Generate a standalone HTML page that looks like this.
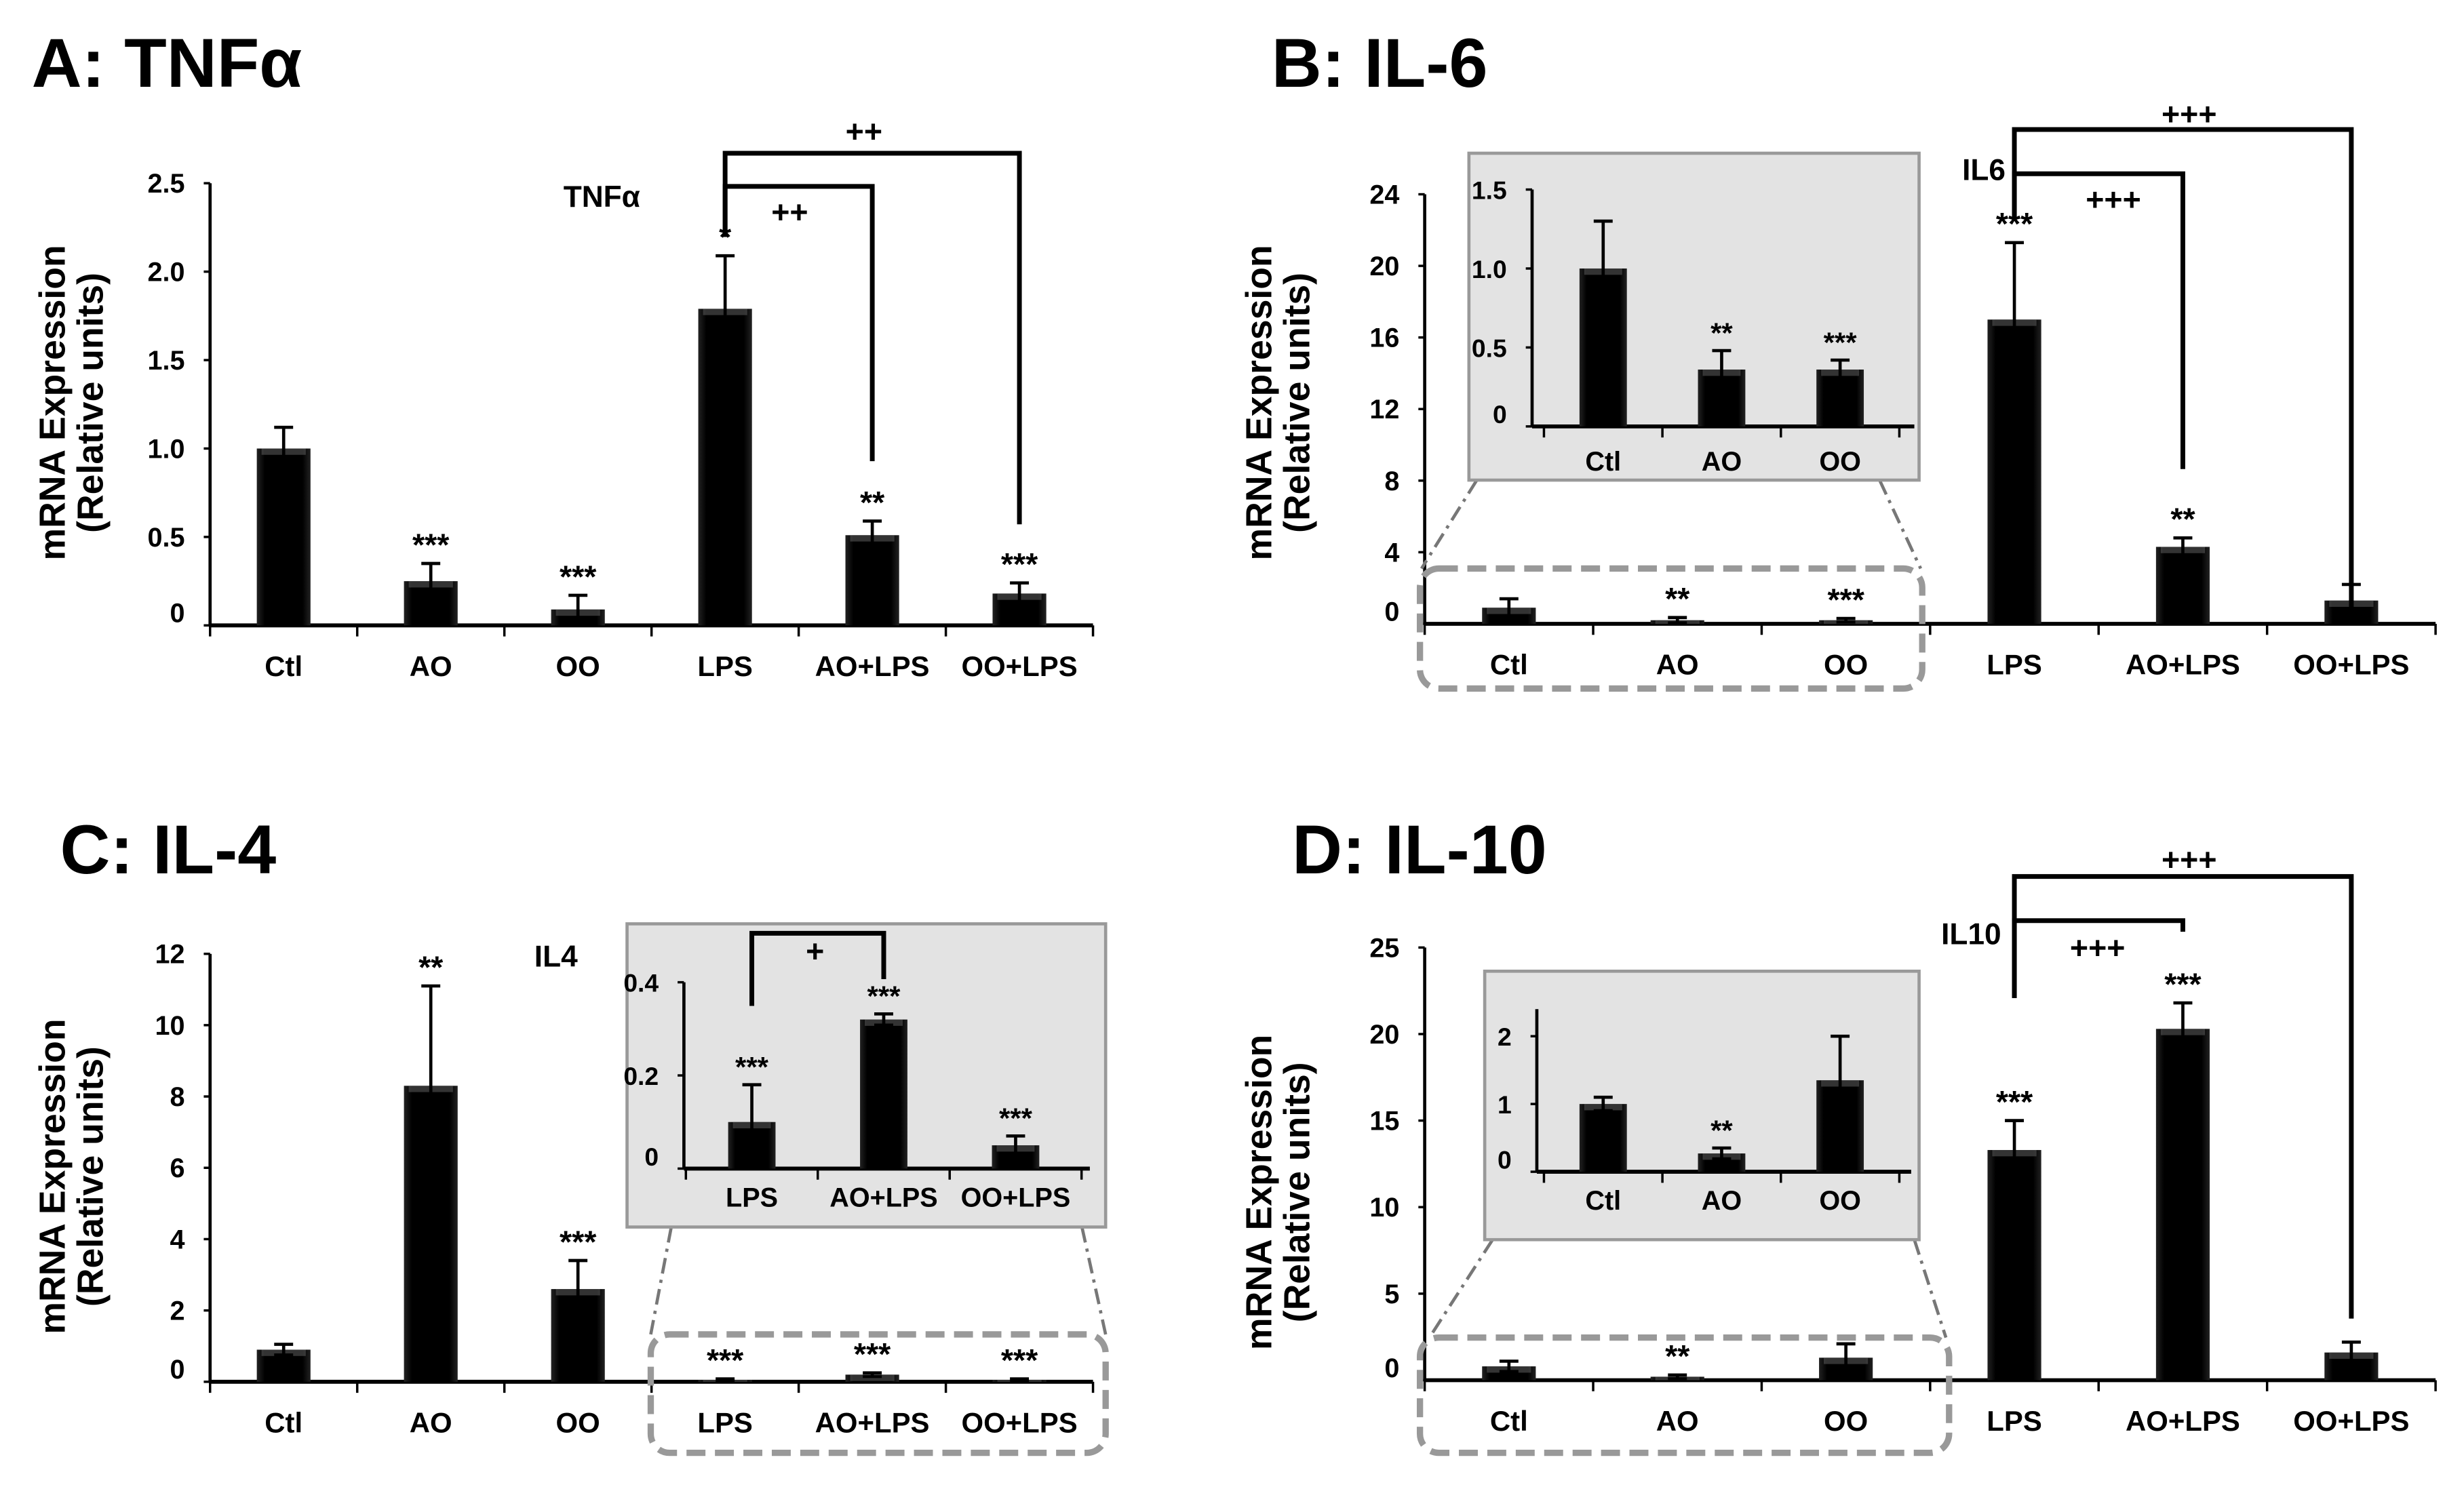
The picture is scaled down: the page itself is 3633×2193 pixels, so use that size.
<!DOCTYPE html>
<html><head><meta charset="utf-8">
<style>
html,body{margin:0;padding:0;background:#fff;}
svg{display:block;}
text{font-family:"Liberation Sans",Arial,sans-serif;font-weight:bold;fill:#000;}
</style></head>
<body>
<svg id="fig" xmlns="http://www.w3.org/2000/svg" width="3633" height="2193" viewBox="0 0 1560 941.6">
<defs>
<linearGradient id="barg" x1="0" x2="1" y1="0" y2="0">
<stop offset="0" stop-color="#222"/><stop offset="0.15" stop-color="#000"/><stop offset="0.85" stop-color="#000"/><stop offset="1" stop-color="#222"/>
</linearGradient>
</defs>
<text x="20" y="55" font-size="44">A: TNFα</text>
<text x="805" y="55" font-size="44">B: IL-6</text>
<text x="38" y="553" font-size="44">C: IL-4</text>
<text x="818" y="553" font-size="44">D: IL-10</text>
<g id="layer"></g>
</svg>
<script>
// Panel A: TNFα
const aCats = ["Ctl","AO","OO","LPS","AO+LPS","OO+LPS"];
const aVals = [1.0,0.25,0.09,1.79,0.51,0.18];
const aErrs = [0.12,0.10,0.08,0.30,0.08,0.06];
const aStars = ["","***","***","*","**","***"];
const aTicks = ["0","0.5","1.0","1.5","2.0","2.5"];
const aTickVals = [0,0.5,1,1.5,2,2.5];
// Panel B: IL-6
const bCats = ["Ctl","AO","OO","LPS","AO+LPS","OO+LPS"];
const bVals = [0.9,0.2,0.2,17.0,4.3,1.3];
const bErrs = [0.5,0.15,0.1,4.3,0.5,0.9];
const bStars = ["","**","***","***","**",""];
const bTickVals = [0,4,8,12,16,20,24];
const bInCats = ["Ctl","AO","OO"];
const bInVals = [1.0,0.36,0.36];
const bInErrs = [0.3,0.12,0.06];
const bInStars = ["","**","***"];
const bInTicks = ["0","0.5","1.0","1.5"];
const bInTickVals = [0,0.5,1,1.5];
// Panel C: IL-4
const cCats = ["Ctl","AO","OO","LPS","AO+LPS","OO+LPS"];
const cVals = [0.9,8.3,2.6,0.05,0.2,0.05];
const cErrs = [0.15,2.8,0.8,0.03,0.05,0.03];
const cStars = ["","**","***","***","***","***"];
const cTickVals = [0,2,4,6,8,10,12];
const cInCats = ["LPS","AO+LPS","OO+LPS"];
const cInVals = [0.1,0.32,0.05];
const cInErrs = [0.08,0.012,0.02];
const cInStars = ["***","***","***"];
const cInTicks = ["0","0.2","0.4"];
const cInTickVals = [0,0.2,0.4];
// Panel D: IL-10
const dCats = ["Ctl","AO","OO","LPS","AO+LPS","OO+LPS"];
const dVals = [0.8,0.2,1.3,13.3,20.3,1.6];
const dErrs = [0.3,0.1,0.8,1.7,1.5,0.6];
const dStars = ["","**","","***","***",""];
const dTickVals = [0,5,10,15,20,25];
const dInCats = ["Ctl","AO","OO"];
const dInVals = [1.0,0.27,1.35];
const dInErrs = [0.1,0.08,0.65];
const dInStars = ["","**",""];
const dInTicks = ["0","1","2"];
const dInTickVals = [0,1,2];

const NS="http://www.w3.org/2000/svg";
const layer=document.getElementById('layer');
function mk(tag,attrs,parent){const e=document.createElementNS(NS,tag);for(const k in attrs)e.setAttribute(k,attrs[k]);(parent||layer).appendChild(e);return e;}
function txt(x,y,s,size,anchor,parent){const t=mk('text',{x:x,y:y,'font-size':size,'text-anchor':anchor||'middle'},parent);t.textContent=s;return t;}

function chart(o){
  const g=mk('g',{});
  
  
  const n=o.cats.length;
  const x0=o.x0,x1=o.x1,y0=o.y0,y1=o.y1;
  const step=o.step||(x1-x0)/n;
  const c0=o.c0||(x0+step*0.5);
  const xs=i=>c0+step*i;
  const ys=v=>y0-(v-o.min)/(o.max-o.min)*(y0-y1);
  const sw=o.sw||2;
  const ya=mk('line',{x1:x0,y1:y1,x2:x0,y2:y0,stroke:'#000','stroke-width':sw},g);
  
  
  const xa=mk('line',{x1:x0,y1:y0,x2:x1,y2:y0,stroke:'#000','stroke-width':sw+0.5},g);
  
  
  o.tickVals.forEach((v,i)=>{
    mk('line',{x1:x0-4,y1:ys(v),x2:x0,y2:ys(v),stroke:'#000','stroke-width':1.5},g);
    const t=txt(x0-16,ys(v)+(i===0?-2:6),o.ticks?o.ticks[i]:String(v),o.tfs||17,'end',g);
    
    
  });
  for(let i=0;i<=n;i++){const tx=Math.min(x1,Math.max(x0,xs(i)-step/2));mk('line',{x1:tx,y1:y0,x2:tx,y2:y0+7,stroke:'#000','stroke-width':1.5},g);}
  const bw=o.bw||34;
  o.cats.forEach((c,i)=>{
    const cx=xs(i),top=ys(o.vals[i]);
    const b=mk('rect',{x:cx-bw/2,y:top,width:bw,height:Math.max(0.5,y0-top),fill:'url(#barg)'},g);
    
    
    mk('rect',{x:cx-bw/2+3,y:top,width:bw-6,height:Math.min(4,y0-top),fill:'#666',opacity:0.5},g);
    const et=ys(o.vals[i]+o.errs[i]);
    const eb=ys(Math.max(o.min,o.vals[i]-o.errs[i]));
    const e=mk('path',{d:`M${cx},${eb}V${et}M${cx-6},${et}H${cx+6}M${cx-6},${eb}H${cx+6}`,stroke:'#000','stroke-width':2,fill:'none'},g);
    
    
    const lab=txt(cx,y0+(o.labOff||32),c,o.lfs||18,'middle',g);
    
    
    if(o.stars[i]){
      const sy=Math.min(top,et)-(o.starGap||14);
      const s=txt(cx,sy+9,o.stars[i],o.sfs||20,'middle',g);
      s.setAttribute('font-weight','normal');
      
      
    }
  });
  return {xs,ys,g};
}
function ytitle(cx,cy){
  const t1=txt(0,0,'mRNA Expression',23,'middle');
  t1.setAttribute('transform',`translate(${cx-11},${cy}) rotate(-90)`);
  
  
  const t2=txt(0,0,'(Relative units)',23,'middle');
  t2.setAttribute('transform',`translate(${cx+13},${cy}) rotate(-90)`);
  
  
}
function bracket(pts,name){
  const p=mk('polyline',{points:pts.map(q=>q.join(',')).join(' '),fill:'none',stroke:'#000','stroke-width':3});
  
  
}
function label(x,y,s,size,name,w){
  const t=txt(x,y,s,size,'middle');
  if(w) t.setAttribute('font-weight',w);
  
  
}
function inset(x,y,w,h,name){
  const r=mk('rect',{x:x,y:y,width:w,height:h,fill:'#e3e3e3',stroke:'#999','stroke-width':2});
  
  
}
function dashbox(x,y,w,h,name){
  const r=mk('rect',{x:x,y:y,width:w,height:h,rx:12,fill:'none',stroke:'#999','stroke-width':4,'stroke-dasharray':'12,6'});
  
  
}
function dline(a,b){
  const l=mk('line',{x1:a[0],y1:a[1],x2:b[0],y2:b[1],stroke:'#777','stroke-width':2,'stroke-dasharray':'10,4,2,4'});
  
  
}

// ---- Panel A
const A=chart({name:'panel-a-chart',cats:aCats,vals:aVals,errs:aErrs,stars:aStars,ticks:aTicks,tickVals:aTickVals,min:0,max:2.5,x0:133,x1:692,y0:396,y1:116});
ytitle(52,255);
label(381,131,'TNFα',19,'chart-a-inner-title');
bracket([[A.xs(3),150],[A.xs(3),97],[A.xs(5),97],[A.xs(5),332]],'bracket-lps-oo-lps');
bracket([[A.xs(3),150],[A.xs(3),118],[A.xs(4),118],[A.xs(4),292]],'bracket-lps-ao-lps');
label(547,90,'++',20,'sig-plus-a-outer');
label(500,141,'++',20,'sig-plus-a-inner');

// ---- Panel B
const B=chart({name:'panel-b-chart',cats:bCats,vals:bVals,errs:bErrs,stars:bStars,tickVals:bTickVals,min:0,max:24,x0:902,x1:1542,y0:395,y1:123});
ytitle(816,255);
bracket([[B.xs(3),140],[B.xs(3),82],[B.xs(5),82],[B.xs(5),390]],'bracket-lps-oo-lps');
bracket([[B.xs(3),140],[B.xs(3),110],[B.xs(4),110],[B.xs(4),297]],'bracket-lps-ao-lps');
label(1386,79,'+++',20,'sig-plus-b-outer');
label(1338,133,'+++',20,'sig-plus-b-inner');
label(1256,114,'IL6',19,'chart-b-inner-title');
dashbox(899,360,318,76,'zoom-region-box-b');
dline([935,304],[900,360]);dline([1190,304],[1216,360]);
inset(930,97,285,207,'inset-b');
chart({name:'inset-b-chart',cats:bInCats,vals:bInVals,errs:bInErrs,stars:bInStars,ticks:bInTicks,tickVals:bInTickVals,min:0,max:1.5,x0:970,x1:1212,y0:270,y1:120,c0:1015,step:75,bw:30,tfs:16,lfs:17,labOff:28,sfs:18});

// ---- Panel C
const C=chart({name:'panel-c-chart',cats:cCats,vals:cVals,errs:cErrs,stars:cStars,tickVals:cTickVals,min:0,max:12,x0:133,x1:692,y0:875,y1:604});
ytitle(52,745);
label(352,612,'IL4',19,'chart-c-inner-title');
dashbox(412,845,288,75,'zoom-region-box-c');
dline([425,777],[412,845]);dline([685,777],[700,845]);
inset(397,585,303,192,'inset-c');
const CI=chart({name:'inset-c-chart',cats:cInCats,vals:cInVals,errs:cInErrs,stars:cInStars,ticks:cInTicks,tickVals:cInTickVals,min:0,max:0.4,x0:433,x1:690,y0:740,y1:622,c0:476,step:83.5,bw:30,tfs:16,lfs:17,labOff:24,sfs:18});
bracket([[CI.xs(0),637],[CI.xs(0),591],[CI.xs(1),591],[CI.xs(1),620]],'bracket-lps-ao-lps-inset');
label(516,609,'+',20,'sig-plus-c');

// ---- Panel D
const D=chart({name:'panel-d-chart',cats:dCats,vals:dVals,errs:dErrs,stars:dStars,tickVals:dTickVals,min:0,max:25,x0:902,x1:1542,y0:874,y1:600});
ytitle(816,755);
bracket([[D.xs(3),632],[D.xs(3),555],[D.xs(5),555],[D.xs(5),835]],'bracket-lps-oo-lps');
bracket([[D.xs(3),632],[D.xs(3),583],[D.xs(4),583],[D.xs(4),590]],'bracket-lps-ao-lps');
label(1386,551,'+++',20,'sig-plus-d-outer');
label(1328,607,'+++',20,'sig-plus-d-inner');
label(1248,598,'IL10',19,'chart-d-inner-title');
dashbox(899,847,335,73,'zoom-region-box-d');
dline([945,785],[905,847]);dline([1212,785],[1232,847]);
inset(940,615,275,170,'inset-d');
chart({name:'inset-d-chart',cats:dInCats,vals:dInVals,errs:dInErrs,stars:dInStars,ticks:dInTicks,tickVals:dInTickVals,min:0,max:2.4,x0:973,x1:1210,y0:742,y1:639,c0:1015,step:75,bw:30,tfs:16,lfs:17,labOff:24,sfs:18});
</script>
</body></html>
